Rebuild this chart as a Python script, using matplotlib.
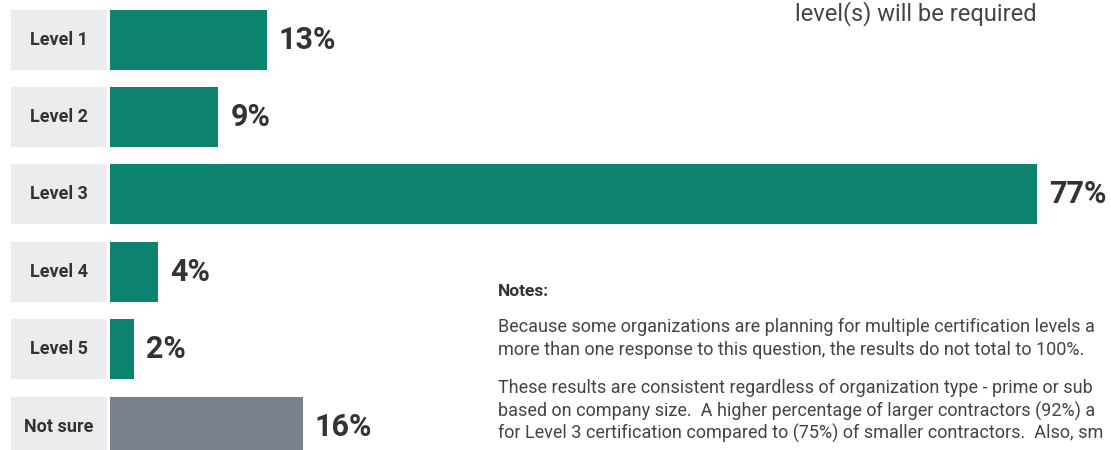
import matplotlib.pyplot as plt

plt.rcParams['font.family'] = ['Roboto', 'DejaVu Sans']

# data
categories = ["Level 1", "Level 2", "Level 3", "Level 4", "Level 5", "Not sure"]
values = [13, 9, 77, 4, 2, 16]
bar_colors = ["#0e836f"] * 5 + ["#78818b"]

subtitle_tail = "level(s) will be required"
notes_title = "Notes:"
notes_lines = [
    "Because some organizations are planning for multiple certification levels a",
    "more than one response to this question, the results do not total to 100%.",
    "These results are consistent regardless of organization type - prime or sub",
    "based on company size.  A higher percentage of larger contractors (92%) a",
    "for Level 3 certification compared to (75%) of smaller contractors.  Also, sm",
]

W, H = 1111, 450
fig = plt.figure(figsize=(W / 100, H / 100), dpi=100)
ax = fig.add_axes([0, 0, 1, 1])

px = 12.04      # pixels per percent
pitch = 77.4    # pixels per row
ax.set_xlim(-110 / px, (W - 110) / px)
ax.set_ylim((H - 39.5) / pitch, -39.5 / pitch)
ax.axis("off")

ypos = list(range(len(categories)))
bh = 60 / pitch

# grey label boxes
box_left = (11 - 110) / px
box_w = (107 - 11) / px
ax.barh(ypos, [box_w] * len(ypos), left=box_left, height=bh, color="#ebecee")
for y, cat in zip(ypos, categories):
    ax.text(box_left + box_w / 2, y, cat, ha="center", va="center",
            fontsize=13, fontweight="bold", color="#333333")

ax.barh(ypos, values, height=bh, color=bar_colors)
for y, v in zip(ypos, values):
    ax.text(v + 12 / px, y, f"{v}%", ha="left", va="center",
            fontsize=22, fontweight="bold", color="#333333")

fig.text(1037 / W, 1 - 20 / H, subtitle_tail, ha="right", va="baseline",
         fontsize=17, fontweight="normal", color="#444444")

fig.text(498 / W, 1 - 292 / H, notes_title, ha="left", va="center",
         fontsize=12.5, fontweight="bold", color="#333333")
line_y = [327, 350, 388, 411, 433]
for y, line in zip(line_y, notes_lines):
    fig.text(498 / W, 1 - y / H, line, ha="left", va="center",
             fontsize=13, color="#444444")

fig.savefig("out.png", dpi=100)
